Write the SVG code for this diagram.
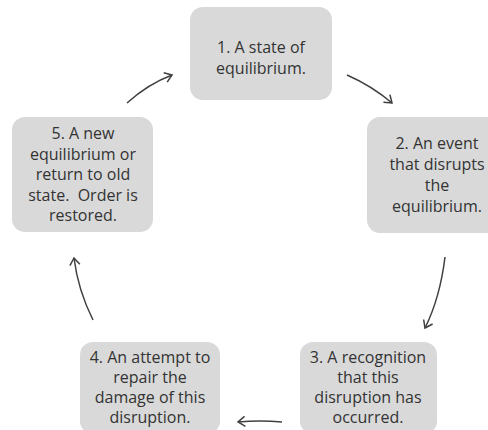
<svg xmlns="http://www.w3.org/2000/svg" width="488" height="430" viewBox="0 0 488 430">
<style>
.box{fill:#d9d9d9;}
.t{font-family:"Open Sans","Noto Sans",sans-serif;font-size:16px;fill:#333333;text-anchor:middle;}
.c{fill:none;stroke:#404040;stroke-width:1.5;marker-end:url(#ah);}
</style>
<defs>
<marker id="ah" markerWidth="12" markerHeight="12" refX="9" refY="6" orient="auto" markerUnits="userSpaceOnUse">
<path d="M2,1 L9,6 L2,11" fill="none" stroke="#404040" stroke-width="1.5"/>
</marker>
</defs>
<rect width="488" height="430" fill="#ffffff"/>
<g id="n1">
<rect class="box" x="190" y="7" width="142" height="93" rx="13"/>
<text class="t" x="261" y="53">1. A state of</text>
<text class="t" x="261" y="74">equilibrium.</text>
</g>
<g id="n2">
<rect class="box" x="367" y="117" width="142" height="116" rx="13"/>
<text class="t" x="437" y="149">2. An event</text>
<text class="t" x="437" y="170">that disrupts</text>
<text class="t" x="437" y="191">the</text>
<text class="t" x="437" y="212">equilibrium.</text>
</g>
<g id="n3">
<rect class="box" x="300" y="342" width="137" height="92" rx="13"/>
<text class="t" x="368" y="363">3. A recognition</text>
<text class="t" x="368" y="383">that this</text>
<text class="t" x="368" y="403">disruption has</text>
<text class="t" x="368" y="423">occurred.</text>
</g>
<g id="n4">
<rect class="box" x="80" y="342" width="140" height="92" rx="13"/>
<text class="t" x="150" y="363">4. An attempt to</text>
<text class="t" x="150" y="383">repair the</text>
<text class="t" x="150" y="403">damage of this</text>
<text class="t" x="150" y="423">disruption.</text>
</g>
<g id="n5">
<rect class="box" x="12" y="117" width="141" height="115" rx="13"/>
<text class="t" x="83" y="139">5. A new</text>
<text class="t" x="83" y="159.5">equilibrium or</text>
<text class="t" x="83" y="180">return to old</text>
<text class="t" x="83" y="200.5">state.&#160; Order is</text>
<text class="t" x="83" y="221">restored.</text>
</g>
<g id="connectors">
<path class="c" d="M127,103 Q148,84 172,75"/>
<path class="c" d="M347,75 Q372,86 392,103"/>
<path class="c" d="M445,257 Q440,298 425,328"/>
<path class="c" d="M282,422 Q260,420 238,422"/>
<path class="c" d="M93,320 Q78,290 74,258"/>
</g>
</svg>
